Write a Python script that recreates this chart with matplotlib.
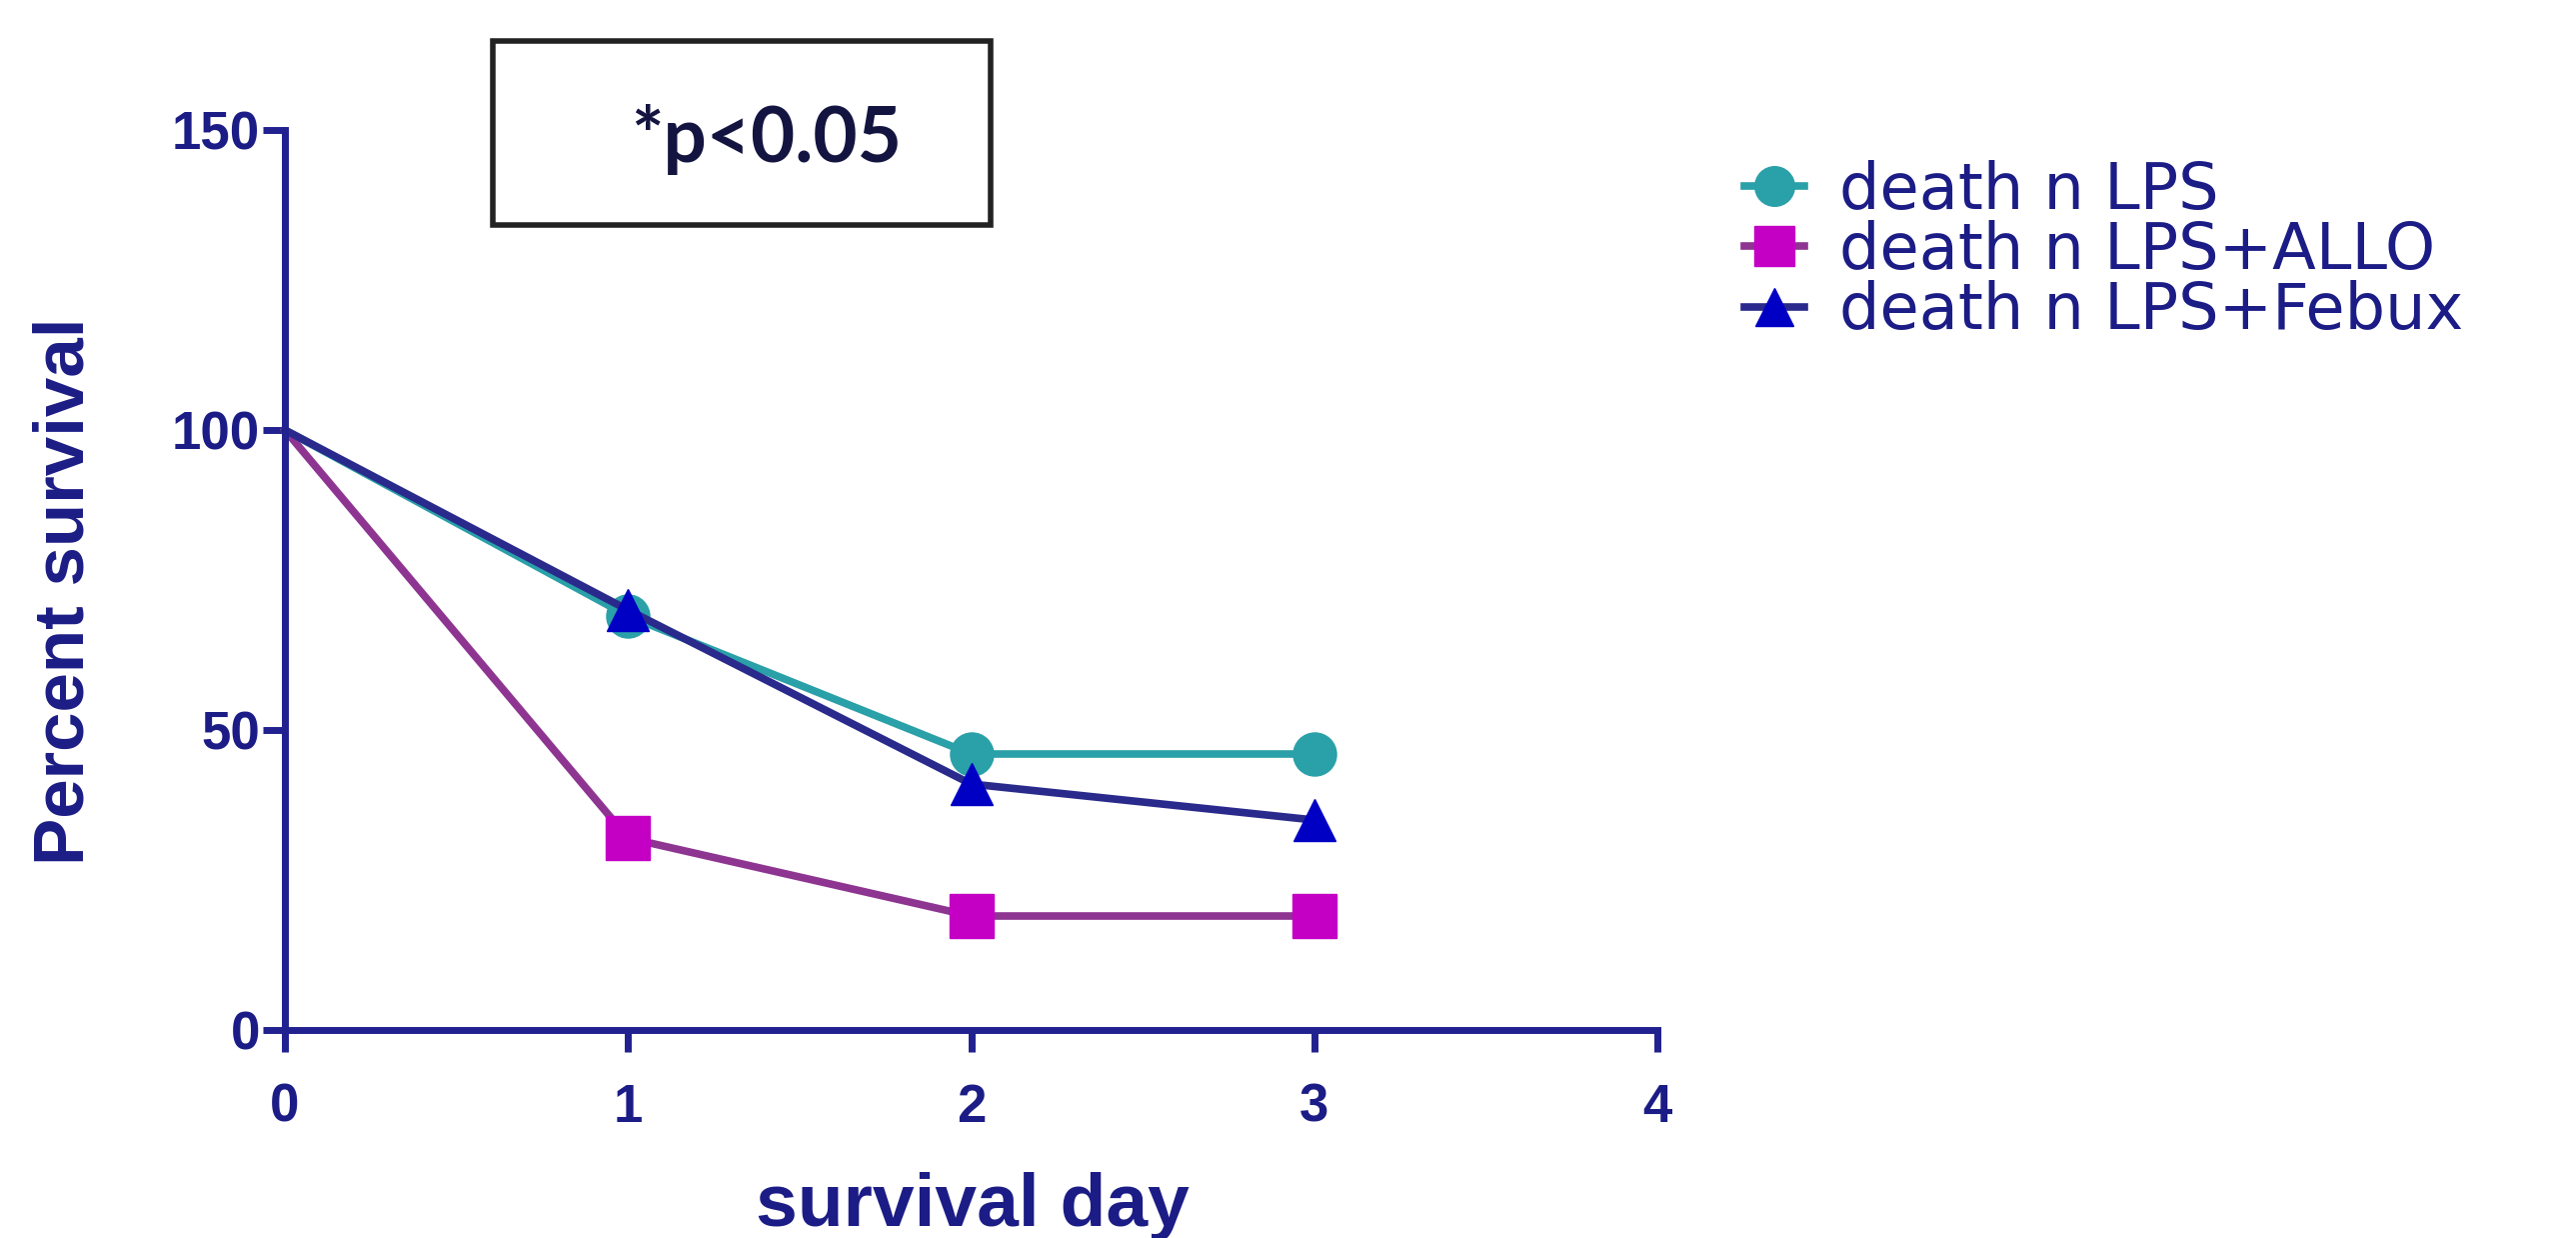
import matplotlib
matplotlib.use("Agg")
import matplotlib.pyplot as plt
from matplotlib.patches import Rectangle

# survival data
days = [0, 1, 2, 3]
lps = [100, 69, 46, 46]
lps_allo = [100, 32, 19, 19]
lps_febux = [100, 70, 41, 35]

labels = ["death n LPS", "death n LPS+ALLO", "death n LPS+Febux"]
xticks = [0, 1, 2, 3, 4]
yticks = [0, 50, 100, 150]
pvalue_text = "*p<0.05"

navy = "#21218f"
text_navy = "#1c1c86"

fig = plt.figure(figsize=(25.77, 12.38), dpi=100)
ax = fig.add_axes([0.1106, 0.168, 0.5328, 0.727])

series = [
    (lps, "o", "#2aa0a8", "#2aa0a8", 31),
    (lps_allo, "s", "#c400c4", "#8e3592", 31),
    (lps_febux, "^", "#0000c4", "#2a2a8c", 30),
]
for (vals, mk, mcol, lcol, ms), lab in zip(series, labels):
    ax.plot(days, vals, color=lcol, lw=5.5, marker=mk, markersize=ms,
            markerfacecolor=mcol, markeredgecolor=mcol, markevery=[1, 2, 3],
            label=lab, clip_on=False)

ax.set_xlim(0, 4)
ax.set_ylim(0, 150)
ax.set_xticks(xticks)
ax.set_yticks(yticks)

for side in ["top", "right"]:
    ax.spines[side].set_visible(False)
for side in ["left", "bottom"]:
    ax.spines[side].set_color(navy)
    ax.spines[side].set_linewidth(5)
ax.tick_params(axis="both", direction="out", length=16, width=5, color=navy,
               labelcolor=text_navy)
ax.tick_params(axis="x", pad=22)
ax.tick_params(axis="y", pad=2)

tick_font = ["Liberation Sans", "DejaVu Sans"]
for lbl in ax.get_xticklabels() + ax.get_yticklabels():
    lbl.set_family(tick_font)
    lbl.set_fontweight("bold")
    lbl.set_fontsize(38)

ax.set_xlabel("survival day", fontsize=54, fontweight="bold", color=text_navy,
              family=["Liberation Sans", "DejaVu Sans"])
ax.set_ylabel("Percent survival", fontsize=51, fontweight="bold", color=text_navy,
              family=["Liberation Sans", "DejaVu Sans"])
ax.xaxis.set_label_coords(0.501, -0.158)
ax.yaxis.set_label_coords(-0.136, 0.487)

# legend on the right
leg = fig.legend(loc="upper left", bbox_to_anchor=(0.677, 0.871), frameon=False,
                 fontsize=46, handlelength=0.95, handletextpad=0.55,
                 labelspacing=-0.03, borderpad=0, borderaxespad=0,
                 markerscale=0.92)
for t in leg.get_texts():
    t.set_color(text_navy)
    t.set_family(["DejaVu Sans"])

# p-value box
fig.patches.append(Rectangle((0.1913, 0.8183), 0.1932, 0.1486, transform=fig.transFigure,
                             fill=False, edgecolor="#222222", linewidth=4))
fig.text(0.2975, 0.887, pvalue_text, ha="center", va="center", fontsize=55,
         fontweight="bold", color="#141440", family=["Lato", "DejaVu Sans"])

fig.savefig("out.png", dpi=100)
